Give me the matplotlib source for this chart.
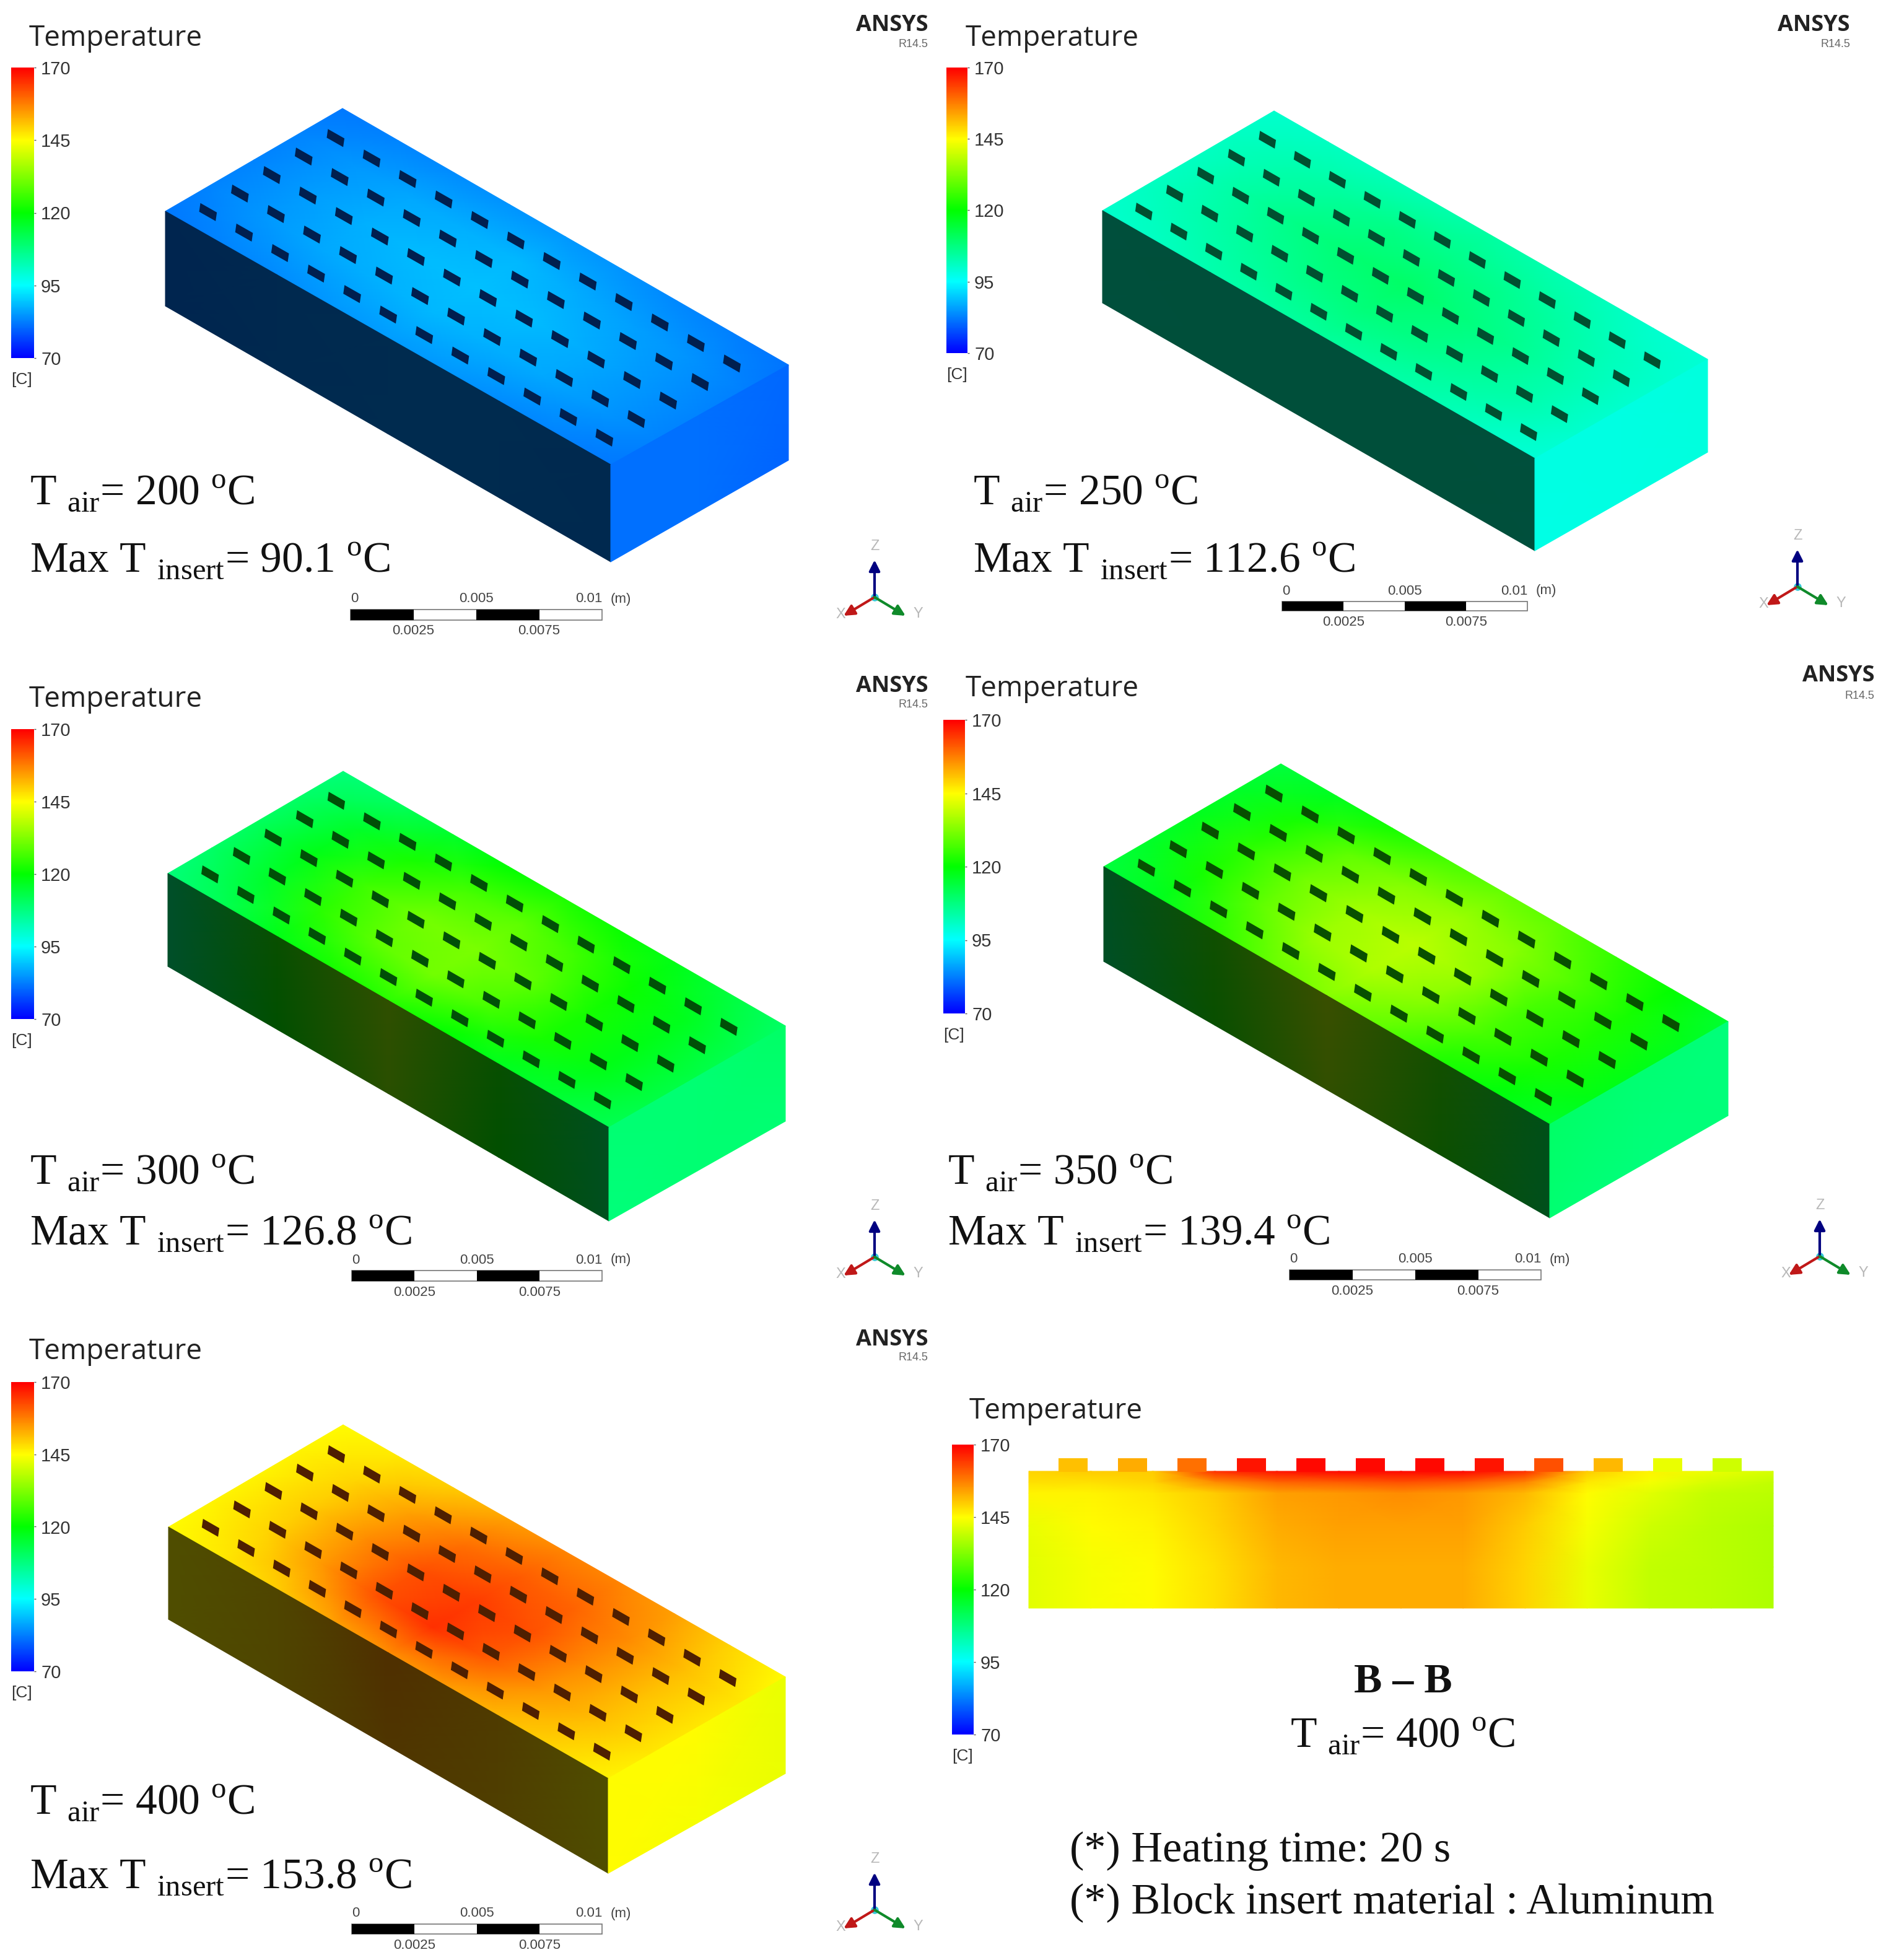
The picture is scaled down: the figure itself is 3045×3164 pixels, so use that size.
import numpy as np
import matplotlib
matplotlib.use("Agg")
import matplotlib.pyplot as plt
from matplotlib.cm import ScalarMappable
from matplotlib.colors import LinearSegmentedColormap, Normalize
from matplotlib.patches import Polygon, Rectangle

W, H = 3045, 3164
DPI = 100

# values
air_temps = [200, 250, 300, 350, 400]
max_insert = ["90.1", "112.6", "126.8", "139.4", "153.8"]
legend_ticks = [70, 95, 120, 145, 170]
scale_top = ["0", "0.005", "0.01"]
scale_bottom = ["0.0025", "0.0075"]

# temperature on the top face, rows go from the near long edge to the far one
top_200 = [[82, 83, 84, 85, 85.5, 85, 84, 83, 82],
           [83, 85, 86.5, 87.5, 88, 87.5, 86.5, 85, 83],
           [83, 85.5, 87.5, 88.5, 89, 88.5, 87, 85, 83],
           [83, 85, 86.5, 87.5, 88, 87, 86, 84.5, 82.5],
           [82, 83, 84, 84.5, 85, 84.5, 83.5, 82.5, 81.5]]
top_250 = [[100, 101, 103, 104, 105, 104, 103, 101, 99],
           [101, 103, 105, 107, 108, 107, 105, 103, 100],
           [101, 104, 107, 109, 110, 108, 106, 103, 100],
           [101, 103, 105, 107, 107, 106, 104, 102, 100],
           [100, 101, 102, 103, 104, 103, 102, 100, 99]]
top_300 = [[108, 112, 118, 122, 124, 120, 117, 115, 112],
           [110, 116, 124, 129, 131, 127, 122, 118, 113],
           [111, 118, 126, 131, 132, 129, 122, 118, 113],
           [110, 116, 122, 127, 129, 126, 121, 117, 112],
           [108, 111, 116, 120, 123, 121, 118, 114, 110]]
top_350 = [[114, 117, 124, 130, 133, 129, 123, 119, 116],
           [116, 122, 129, 135, 137, 133, 127, 122, 118],
           [117, 124, 131, 136, 138, 135, 127, 123, 118],
           [116, 122, 129, 133, 135, 133, 128, 122, 117],
           [114, 117, 122, 127, 130, 129, 125, 120, 115]]
top_400 = [[145, 147, 150, 154, 156, 155, 152, 149, 146],
           [146, 149, 155, 162, 165, 161, 155, 151, 147],
           [146, 150, 156, 162, 164, 162, 156, 151, 147],
           [146, 149, 154, 159, 161, 160, 156, 151, 147],
           [145, 147, 150, 154, 157, 157, 154, 149, 145]]
all_tops = [top_200, top_250, top_300, top_350, top_400]

# long side wall seen in shadow, top edge then bottom edge
front_200 = [[82, 83, 84, 84, 83], [82, 83, 84, 84, 83]]
front_250 = [[101, 102, 102, 102, 101], [101, 102, 102, 102, 101]]
front_300 = [[107, 123, 135, 122, 110], [107, 120, 133, 120, 110]]
front_350 = [[110, 125, 138, 126, 112], [108, 123, 136, 124, 111]]
front_400 = [[145, 148, 155, 151, 145], [145, 148, 153, 150, 145]]
all_fronts = [front_200, front_250, front_300, front_350, front_400]

# short end wall, fully lit
side_200 = [[81, 81, 80.5], [81, 81, 80]]
side_250 = [[98, 98, 98.5], [97.5, 98, 98.5]]
side_300 = [[109, 109, 110], [108, 109, 109]]
side_350 = [[110, 109, 108], [109, 108, 108]]
side_400 = [[145, 145, 143], [145, 144, 143]]
all_sides = [side_200, side_250, side_300, side_350, side_400]

slot_temps = [80, 105, 118, 122, 160]

# B-B section, rows from the toothed edge down
section_field = [[149, 150, 150, 165, 168, 169, 169, 169, 165, 150, 146, 143, 141],
                 [148, 148, 149, 156, 160, 161, 162, 161, 157, 147, 144, 141, 139],
                 [146, 146, 147, 150, 154, 155, 156, 155, 152, 145, 142, 139, 138],
                 [143, 145, 146, 149, 153, 154, 154, 154, 150, 144, 140, 138, 137],
                 [142, 144, 145, 148, 152, 153, 153, 153, 149, 143, 139, 138, 137],
                 [142, 144, 145, 148, 152, 153, 153, 153, 149, 143, 139, 138, 137]]
tooth_temps = [151, 153, 159, 168, 169, 169, 169, 168, 162, 152, 143, 140]

# layout in pixels: left, back, right, front corners then the three lower ones
block_corners = [
    [(267, 341), (553, 175), (1273, 589), (986, 750), (267, 494), (986, 907), (1273, 743)],
    [(1780, 340), (2057, 179), (2757, 580), (2478, 740), (1780, 489), (2478, 889), (2757, 730)],
    [(271, 1410), (554, 1245), (1268, 1656), (983, 1820), (271, 1560), (983, 1971), (1268, 1810)],
    [(1782, 1399), (2068, 1233), (2790, 1649), (2502, 1815), (1782, 1552), (2502, 1966), (2790, 1801)],
    [(272, 2465), (554, 2300), (1268, 2707), (982, 2871), (272, 2614), (982, 3024), (1268, 2863)],
]
bar_boxes = [(18, 109, 55, 578), (1528, 109, 1562, 570), (18, 1177, 55, 1645),
             (1523, 1162, 1558, 1636), (18, 2231, 55, 2698), (1537, 2332, 1572, 2800)]
title_pos = [(47, 62), (1559, 62), (47, 1129), (1559, 1112), (47, 2182), (1565, 2278)]
ansys_pos = [(1498, 41, 71), (2987, 41, 71), (1498, 1108, 1138), (3026, 1091, 1123), (1498, 2163, 2191)]
note_pos = [(48, 815, 924), (1571, 815, 924), (48, 1912, 2010), (1530, 1912, 2010), (48, 2929, 3049)]
scale_boxes = [(566, 984, 972, 1001), (2070, 971, 2466, 986), (568, 2051, 972, 2068),
               (2082, 2050, 2488, 2066), (568, 3106, 972, 3122)]
triad_pos = [(1412, 964), (2902, 947), (1412, 2029), (2938, 2028), (1412, 3083)]
section_rows = [0, 0.08, 0.16, 0.4, 0.7, 1]

plt.rcParams["mathtext.fontset"] = "custom"
plt.rcParams["mathtext.rm"] = "Liberation Serif"

ansys_map = LinearSegmentedColormap.from_list(
    "ansys", ["#0000ff", "#00ffff", "#00ff00", "#ffff00", "#ff0000"], N=256)
dark = ansys_map(np.arange(256)) * [0.31, 0.31, 0.31, 1]
dark_map = LinearSegmentedColormap.from_list("ansys_dark", dark, N=256)
norm = Normalize(70, 170)

SERIF = "Liberation Serif"
LABEL = "Open Sans"
NUM = "Liberation Sans"
TXT_SIZE = 50


def face_mesh(p00, p01, p10, p11, values, rows_at=None):
    # bilinear map of a value grid onto a flat four sided face
    values = np.array(values, dtype=float)
    rows, cols = values.shape
    v_line = np.linspace(0, 1, rows) if rows_at is None else np.array(rows_at)
    u, v = np.meshgrid(np.linspace(0, 1, cols), v_line)
    p00, p01, p10, p11 = map(np.array, (p00, p01, p10, p11))
    x = (1-v)*((1-u)*p00[0] + u*p01[0]) + v*((1-u)*p10[0] + u*p11[0])
    y = (1-v)*((1-u)*p00[1] + u*p01[1]) + v*((1-u)*p10[1] + u*p11[1])
    return x, y, values


def draw_block(ax, i):
    left, back, right, front, low_left, low_front, low_right = block_corners[i]
    x, y, c = face_mesh(left, front, back, right, all_tops[i])
    ax.pcolormesh(x, y, c, cmap=ansys_map, norm=norm, shading="gouraud")
    x, y, c = face_mesh(left, front, low_left, low_front, all_fronts[i])
    ax.pcolormesh(x, y, c, cmap=dark_map, norm=norm, shading="gouraud")
    x, y, c = face_mesh(front, right, low_front, low_right, all_sides[i])
    ax.pcolormesh(x, y, c, cmap=ansys_map, norm=norm, shading="gouraud")

    # 12 x 5 slots on the top face
    left = np.array(left, dtype=float)
    long_edge = np.array(front) - left
    short_edge = np.array(back) - left
    slot_col = dark_map(norm(slot_temps[i]))
    for a in np.linspace(0.05, 0.94, 12):
        for b in np.linspace(0.115, 0.835, 5):
            c = left + a*long_edge + b*short_edge
            d = long_edge * 0.0185
            e = np.array([-1.0, 7.0])
            ax.add_patch(Polygon([c-d-e, c+d-e, c+d+e, c-d+e], closed=True,
                                 facecolor=slot_col, edgecolor="none", zorder=3))


def draw_legend(fig, ax, i):
    x0, y0, x1, y1 = bar_boxes[i]
    cax = fig.add_axes([x0/W, 1-y1/H, (x1-x0)/W, (y1-y0)/H])
    cb = fig.colorbar(ScalarMappable(norm=norm, cmap=ansys_map), cax=cax, ticks=legend_ticks)
    cb.outline.set_visible(False)
    cb.ax.tick_params(length=2, width=1, color="#555555", pad=6, labelsize=21, labelcolor="#333333")
    for t in cb.ax.get_yticklabels():
        t.set_family(NUM)
    ax.text(x0, y1+35, "[C]", family=NUM, fontsize=19, color="#333333", ha="left", va="center")
    ax.text(title_pos[i][0], title_pos[i][1], "Temperature", family=LABEL, fontsize=33,
            color="#222222", ha="left", va="center")


def draw_ansys(ax, i):
    x, y1, y2 = ansys_pos[i]
    ax.text(x, y1, "ANSYS", family=LABEL, fontweight="bold", fontsize=26, color="#222222",
            ha="right", va="center")
    ax.text(x, y2, "R14.5", family=NUM, fontsize=13, color="#666666", ha="right", va="center")


def draw_scale(ax, i):
    x0, y0, x1, y1 = scale_boxes[i]
    step = (x1-x0)/4
    ax.add_patch(Rectangle((x0, y0), x1-x0, y1-y0, facecolor="white", edgecolor="#777777", lw=1.2))
    for k in (0, 2):
        ax.add_patch(Rectangle((x0+k*step, y0), step, y1-y0, facecolor="black", edgecolor="none"))
    aligns = ["left", "center", "right"]
    for k, lab in enumerate(scale_top):
        ax.text(x0+2*k*step, y0-17, lab, family=NUM, fontsize=16, color="#444444", ha=aligns[k], va="center")
    ax.text(x1+14, y0-17, "(m)", family=NUM, fontsize=16, color="#444444", ha="left", va="center")
    for k, lab in enumerate(scale_bottom):
        ax.text(x0+(2*k+1)*step, y1+18, lab, family=NUM, fontsize=16, color="#444444", ha="center", va="center")


def draw_triad(ax, i):
    cx, cy = triad_pos[i]
    arms = [((0, -60), "#000080", "Z", (0, -82)),
            ((-50, 30), "#c01818", "X", (-55, 28)),
            ((50, 30), "#0f8a2a", "Y", (70, 27))]
    for (dx, dy), col, lab, (tx, ty) in arms:
        ax.annotate("", xy=(cx+dx, cy+dy), xytext=(cx, cy),
                    arrowprops=dict(arrowstyle="-|>", color=col, lw=3, mutation_scale=26,
                                    shrinkA=0, shrinkB=0))
        ax.text(cx+tx, cy+ty, lab, family=NUM, fontsize=17, color="#b8b8b8", ha="center", va="center")
    ax.plot([cx], [cy], "o", color="#35c8d8", ms=8)


def draw_notes(ax, i):
    x, y1, y2 = note_pos[i]
    ax.text(x, y1, rf"T $_{{\mathrm{{air}}}}$= {air_temps[i]} $^{{\mathrm{{o}}}}$C", family=SERIF,
            fontsize=TXT_SIZE, color="#111111", ha="left", va="baseline")
    ax.text(x, y2, rf"Max T $_{{\mathrm{{insert}}}}$= {max_insert[i]} $^{{\mathrm{{o}}}}$C", family=SERIF,
            fontsize=TXT_SIZE, color="#111111", ha="left", va="baseline")


def draw_section(ax):
    x, y, c = face_mesh((1661, 2375), (2863, 2375), (1661, 2596), (2863, 2596), section_field, section_rows)
    ax.pcolormesh(x, y, c, cmap=ansys_map, norm=norm, shading="gouraud")
    for k, temp in enumerate(tooth_temps):
        ax.add_patch(Rectangle((1709+96*k, 2354), 47, 22, facecolor=ansys_map(norm(temp)), edgecolor="none"))
    ax.text(2265, 2732, "B \u2013 B", family=SERIF, fontweight="bold", fontsize=49, color="#111111",
            ha="center", va="baseline")
    ax.text(2265, 2821, rf"T $_{{\mathrm{{air}}}}$= {air_temps[-1]} $^{{\mathrm{{o}}}}$C", family=SERIF,
            fontsize=TXT_SIZE, color="#111111", ha="center", va="baseline")
    ax.text(1727, 3005, "(*) Heating time: 20 s", family=SERIF, fontsize=50.5, color="#111111",
            ha="left", va="baseline")
    ax.text(1727, 3089, "(*) Block insert material : Aluminum", family=SERIF, fontsize=50.5, color="#111111",
            ha="left", va="baseline")


def main():
    fig = plt.figure(figsize=(W/DPI, H/DPI), dpi=DPI, facecolor="white")
    ax = fig.add_axes([0, 0, 1, 1])

    for i in range(5):
        draw_block(ax, i)
        draw_legend(fig, ax, i)
        draw_ansys(ax, i)
        draw_scale(ax, i)
        draw_triad(ax, i)
        draw_notes(ax, i)

    draw_legend(fig, ax, 5)
    draw_section(ax)

    ax.set_xlim(0, W)
    ax.set_ylim(H, 0)
    ax.axis("off")
    fig.savefig("out.png", dpi=DPI, facecolor="white")


if __name__ == "__main__":
    main()
